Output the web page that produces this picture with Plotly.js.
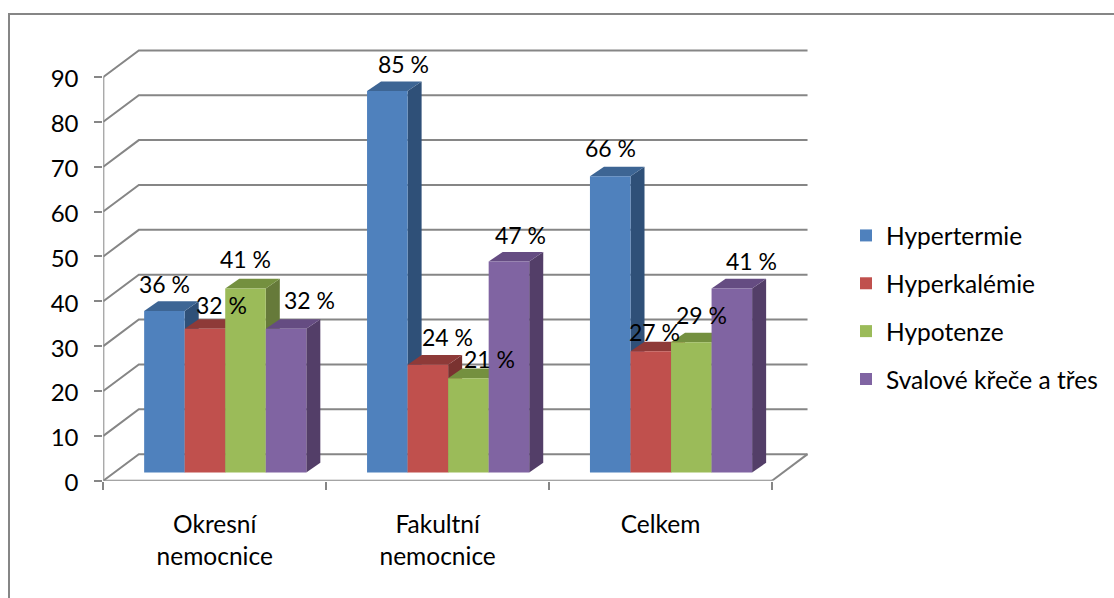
<!DOCTYPE html>
<html>
<head>
<meta charset="utf-8">
<script src="https://cdn.plot.ly/plotly-3.0.1.min.js"></script>
<style>html,body{margin:0;padding:0;background:#fff;overflow:hidden}#chart{width:1114px;height:598px}</style>
</head>
<body>
<div id="chart"></div>
<script>
// Values per hospital group, in percent
const categories = ["Okresní<br>nemocnice", "Fakultní<br>nemocnice", "Celkem"];
const hypertermie = [36, 85, 66];
const hyperkalemie = [32, 24, 27];
const hypotenze = [41, 21, 29];
const svaloveKrece = [32, 47, 41];
const seriesNames = ["Hypertermie", "Hyperkalémie", "Hypotenze", "Svalové křeče a třes"];
const seriesValues = [hypertermie, hyperkalemie, hypotenze, svaloveKrece];
const valueTicks = [0, 10, 20, 30, 40, 50, 60, 70, 80, 90];

// Face colours of the extruded columns
const frontColors = ["#4F81BD", "#C0504D", "#9BBB59", "#8064A2"];
const topColors = ["#3D6594", "#8E3A38", "#74903F", "#654C82"];
const sideColors = ["#2F5078", "#7A3230", "#667A3A", "#533E68"];

// Oblique projection, expressed in axis units
const wallDX = 0.1594, wallDY = 5.92;     // depth of the floor
const barDX = 0.0629, barDY = 2.15;       // depth of one column
const frontDX = 0.047, frontDY = 1.85;    // gap from the front edge to the columns
const barGap = 0.2725;
const barW = (1 - barGap) / 4;
const gridColor = "#868686";
const font = "Lato, 'Open Sans', sans-serif";

// Back wall, side wall and floor
const gx = [], gy = [];
valueTicks.forEach(v => {
  gx.push(0, wallDX, categories.length + wallDX, null);
  gy.push(v, v + wallDY, v + wallDY, null);
});
gx.push(0, 0, null, categories.length, categories.length + wallDX);
gy.push(0, valueTicks[valueTicks.length - 1], null, 0, wallDY);
const traces = [{
  type: "scatter", mode: "lines", x: gx, y: gy, xaxis: "x", yaxis: "y",
  line: {color: gridColor, width: 2}, hoverinfo: "skip", showlegend: false, cliponaxis: false
}];

// Side and top faces, painted left to right so each column covers its neighbour's far edge
const barLeft = (c, s) => c + 0.5 + frontDX - 2 * barW + s * barW;
categories.forEach((_, c) => {
  seriesValues.forEach((vals, s) => {
    const l = barLeft(c, s), r = l + barW, b = frontDY, t = frontDY + vals[c];
    traces.push({
      type: "scatter", mode: "lines", fill: "toself", fillcolor: sideColors[s],
      x: [r, r + barDX, r + barDX, r, r], y: [b, b + barDY, t + barDY, t, b],
      line: {width: 0, color: sideColors[s]}, hoverinfo: "skip", showlegend: false, cliponaxis: false
    });
    traces.push({
      type: "scatter", mode: "lines", fill: "toself", fillcolor: topColors[s],
      x: [l, r, r + barDX, l + barDX, l], y: [t, t, t + barDY, t + barDY, t],
      line: {width: 0, color: topColors[s]}, hoverinfo: "skip", showlegend: false, cliponaxis: false
    });
  });
});

// Front faces sit on the overlaid axes so they always cover the extruded faces
seriesValues.forEach((vals, s) => {
  traces.push({
    type: "bar", name: seriesNames[s], legendgroup: seriesNames[s],
    x: categories.map((_, c) => c + 0.5 + frontDX), y: vals, base: frontDY,
    xaxis: "x2", yaxis: "y2", marker: {color: frontColors[s], line: {width: 0}}
  });
});

// Nudges of the percentage labels from the top centre of their columns, in pixels
const labelShift = [
  [[0, 27], [17, 24], [0, 29], [23, 29]],
  [[16, 27], [20, 28], [21, 19], [12, 27]],
  [[0, 28], [4, 19], [10, 27], [20, 27]]
];
const annotations = [];
categories.forEach((_, c) => {
  seriesValues.forEach((vals, s) => {
    annotations.push({
      xref: "x2", yref: "y2", x: barLeft(c, s) + barW / 2, y: frontDY + vals[c],
      text: vals[c] + " %", showarrow: false, xanchor: "center", yanchor: "middle",
      xshift: labelShift[c][s][0], yshift: labelShift[c][s][1],
      font: {family: font, size: 23, color: "#000"}
    });
  });
});

// The plot area carries a little headroom so the outermost gridlines are not trimmed
const W = 1114, H = 598;
const pxPerCat = 222.9, pxPerUnit = 4.486, padX = 0.02, padY = 0.6;
const xRange = [0, categories.length + wallDX + padX];
const yRange = [0, 90 + wallDY + padY];
const xDomain = [103.3 / W, (103.3 + xRange[1] * pxPerCat) / W];
const yDomain = [1 - 480.7 / H, 1 - (480.7 - yRange[1] * pxPerUnit) / H];

const layout = {
  width: W, height: H, margin: {l: 0, r: 0, t: 0, b: 0},
  paper_bgcolor: "#fff", plot_bgcolor: "rgba(0,0,0,0)",
  barmode: "group", bargap: barGap, bargroupgap: 0,
  showlegend: true,
  legend: {
    x: 846 / W, y: 1 - 213 / H, xanchor: "left", yanchor: "top",
    font: {family: font, size: 24.5, color: "#000"}, tracegroupgap: 13,
    traceorder: "grouped", bgcolor: "rgba(0,0,0,0)"
  },
  xaxis: {
    domain: xDomain, range: xRange, type: "linear", fixedrange: true,
    tickmode: "array", tickvals: categories.map((_, c) => c + 0.5), ticktext: categories,
    ticks: "", showgrid: false, zeroline: false, showline: false,
    tickfont: {family: font, size: 24.5, color: "#000"}, ticklabelstandoff: 27, tickangle: 0,
    minor: {tickmode: "linear", tick0: 0, dtick: 1, ticks: "outside", ticklen: 8, tickwidth: 2, tickcolor: gridColor, showgrid: false}
  },
  yaxis: {
    domain: yDomain, range: yRange, fixedrange: true, tickmode: "array", tickvals: valueTicks,
    ticks: "outside", ticklen: 8, tickwidth: 2, tickcolor: gridColor,
    showgrid: false, zeroline: false, showline: false,
    tickfont: {family: font, size: 24, color: "#000"}, ticklabelstandoff: 11, ticklabelshift: 2
  },
  xaxis2: {domain: xDomain, range: xRange, overlaying: "x", anchor: "y2", visible: false, fixedrange: true},
  yaxis2: {domain: yDomain, range: yRange, overlaying: "y", anchor: "x2", visible: false, fixedrange: true},
  annotations: annotations,
  shapes: [
    {
      type: "path", xref: "paper", yref: "paper", layer: "below",
      path: `M ${9 / W} 0 L ${9 / W} ${1 - 14 / H} L 1 ${1 - 14 / H}`,
      line: {color: gridColor, width: 2}
    },
    {
      // Front edge of the floor
      type: "line", xref: "x", yref: "y", x0: 0, x1: categories.length, y0: 0, y1: 0,
      line: {color: gridColor, width: 2}
    }
  ]
};

Plotly.newPlot("chart", traces, layout, {displayModeBar: false, responsive: false});
</script>
</body>
</html>
